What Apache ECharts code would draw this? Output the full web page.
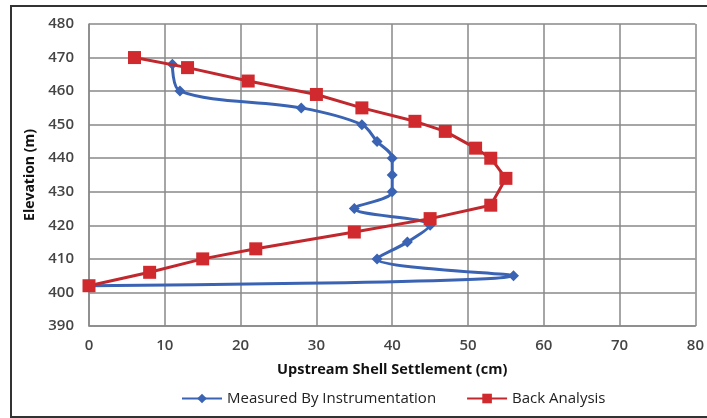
<!DOCTYPE html>
<html>
<head>
<meta charset="utf-8">
<script src="https://cdn.jsdelivr.net/npm/echarts@6/dist/echarts.min.js"></script>
<style>
html,body{margin:0;padding:0;background:#fff;}
#c{width:707px;height:418px;}
</style>
</head>
<body>
<div id="c"></div>
<script>
const measuredX = [11, 12, 28, 36, 38, 40, 40, 40, 35, 45, 42, 38, 56, 0];
const measuredY = [468, 460, 455, 450, 445, 440, 435, 430, 425, 420, 415, 410, 405, 402];
const backX = [6, 13, 21, 30, 36, 43, 47, 51, 53, 55, 53, 45, 35, 22, 15, 8, 0];
const backY = [470, 467, 463, 459, 455, 451, 448, 443, 440, 434, 426, 422, 418, 413, 410, 406, 402];
const xTicks = [0, 10, 20, 30, 40, 50, 60, 70, 80];
const yTicks = [390, 400, 410, 420, 430, 440, 450, 460, 470, 480];

const font = 'Open Sans';
const chart = echarts.init(document.getElementById('c'));
chart.setOption({
  animation: false,
  backgroundColor: '#fff',
  textStyle: { fontFamily: font },
  graphic: [{
    type: 'rect', silent: true,
    shape: { x: 11, y: 6, width: 700, height: 411 },
    style: { fill: 'none', stroke: '#333', lineWidth: 2 }
  }],
  grid: { left: 89, right: 8, top: 24, bottom: 92 },
  xAxis: {
    type: 'value', min: xTicks[0], max: xTicks[xTicks.length - 1], interval: 10,
    name: 'Upstream Shell Settlement (cm)', nameLocation: 'middle', nameGap: 36,
    nameTextStyle: { fontFamily: font, fontSize: 14.5, fontWeight: 'bold', color: '#111' },
    axisLine: { show: true, lineStyle: { color: '#888', width: 1.5 } },
    axisTick: { show: false },
    axisLabel: { fontFamily: font, fontSize: 15, fontWeight: 600, color: '#444', margin: 12 },
    splitLine: { show: true, lineStyle: { color: '#888', width: 1.5 } }
  },
  yAxis: {
    type: 'value', min: yTicks[0], max: yTicks[yTicks.length - 1], interval: 10,
    name: 'Elevation (m)', nameLocation: 'middle', nameGap: 52,
    nameTextStyle: { fontFamily: font, fontSize: 14, fontWeight: 'bold', color: '#111' },
    axisLine: { show: true, lineStyle: { color: '#888', width: 1.5 } },
    axisTick: { show: false },
    axisLabel: { fontFamily: font, fontSize: 15, fontWeight: 600, color: '#444', margin: 15 },
    splitLine: { show: true, lineStyle: { color: '#888', width: 1.5 } }
  },
  legend: {
    bottom: 7, left: 176, itemGap: 30, itemWidth: 40, itemHeight: 12,
    textStyle: { fontFamily: font, fontSize: 15, color: '#222' },
    data: ['Measured By Instrumentation', 'Back Analysis']
  },
  series: [
    {
      name: 'Measured By Instrumentation', type: 'line', smooth: 0.35,
      data: measuredX.map((x, i) => [x, measuredY[i]]),
      symbol: 'diamond', symbolSize: 11,
      lineStyle: { color: '#3A63B3', width: 3 },
      itemStyle: { color: '#3A63B3' },
      z: 2
    },
    {
      name: 'Back Analysis', type: 'line',
      data: backX.map((x, i) => [x, backY[i]]),
      symbol: 'rect', symbolSize: 13,
      lineStyle: { color: '#C0282D', width: 3 },
      itemStyle: { color: '#D02A2E' },
      z: 3
    }
  ]
});
</script>
</body>
</html>
